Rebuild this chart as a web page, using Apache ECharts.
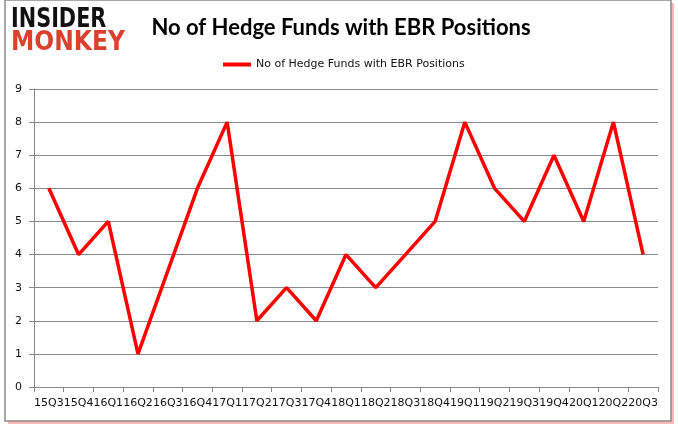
<!DOCTYPE html>
<html>
<head>
<meta charset="utf-8">
<script src="https://cdn.jsdelivr.net/npm/echarts@6/dist/echarts.min.js"></script>
<style>html,body{margin:0;padding:0;background:#fff;}#chart{width:678px;height:431px;}</style>
</head>
<body>
<div id="chart"></div>
<script>
const categories = ['15Q3','15Q4','16Q1','16Q2','16Q3','16Q4','17Q1','17Q2','17Q3','17Q4','18Q1','18Q2','18Q3','18Q4','19Q1','19Q2','19Q3','19Q4','20Q1','20Q2','20Q3'];
const funds = [6,4,5,1,3.5,6,8,2,3,2,4,3,4,5,8,6,5,7,5,8,4];
const yTicks = {min:0, max:9, interval:1};
const seriesName = 'No of Hedge Funds with EBR Positions';
const titleText = 'No of Hedge Funds with EBR Positions';

const chart = echarts.init(document.getElementById('chart'), null, {renderer:'canvas'});
chart.setOption({
  animation: false,
  backgroundColor: '#fff',
  graphic: [
    {type:'rect', shape:{x:8, y:3, width:666, height:421}, style:{fill:'#ffb8b8'}, z:-3},
    {type:'rect', shape:{x:5, y:0, width:666, height:421}, style:{fill:'#fff', stroke:'#8a8a8a', lineWidth:1.5}, z:-2},
    {type:'text', x:11, y:7, scaleX:0.8, style:{text:'INSIDER', font:'900 26px "DejaVu Sans"', fill:'#111'}},
    {type:'text', x:11, y:30, scaleX:0.9, style:{text:'MONKEY', font:'900 26px "DejaVu Sans"', fill:'#d9412e'}}
  ],
  title: {
    text: titleText, left: 336, top: 12, textAlign:'center',
    textStyle: {fontFamily:'Lato', fontWeight:'bold', fontSize:22, color:'#000'}
  },
  legend: {
    top: 54, left: 218, itemWidth: 28, itemHeight: 4, itemGap: 2,
    icon: 'rect',
    textStyle: {fontFamily:'"DejaVu Sans"', fontSize:11, color:'#111'},
    data: [seriesName]
  },
  grid: {left:34, right:20, top:89, bottom:44, containLabel:false},
  xAxis: {
    type:'category', data: categories, boundaryGap:true,
    axisLine:{lineStyle:{color:'#888'}},
    axisTick:{show:true, alignWithLabel:false, length:5, lineStyle:{color:'#888'}},
    axisLabel:{interval:0, color:'#111', fontFamily:'"DejaVu Sans"', fontSize:11, margin:11}
  },
  yAxis: {
    type:'value', min:yTicks.min, max:yTicks.max, interval:yTicks.interval,
    axisLine:{show:true, lineStyle:{color:'#888'}},
    axisTick:{show:true, length:5, lineStyle:{color:'#888'}},
    splitLine:{lineStyle:{color:'#888', width:1}},
    axisLabel:{color:'#111', fontFamily:'"DejaVu Sans"', fontSize:11, margin:12}
  },
  series: [{
    name: seriesName, type:'line', data: funds,
    symbol:'none', lineStyle:{color:'#ff0000', width:3.5}, itemStyle:{color:'#ff0000'}
  }]
});
</script>
</body>
</html>
